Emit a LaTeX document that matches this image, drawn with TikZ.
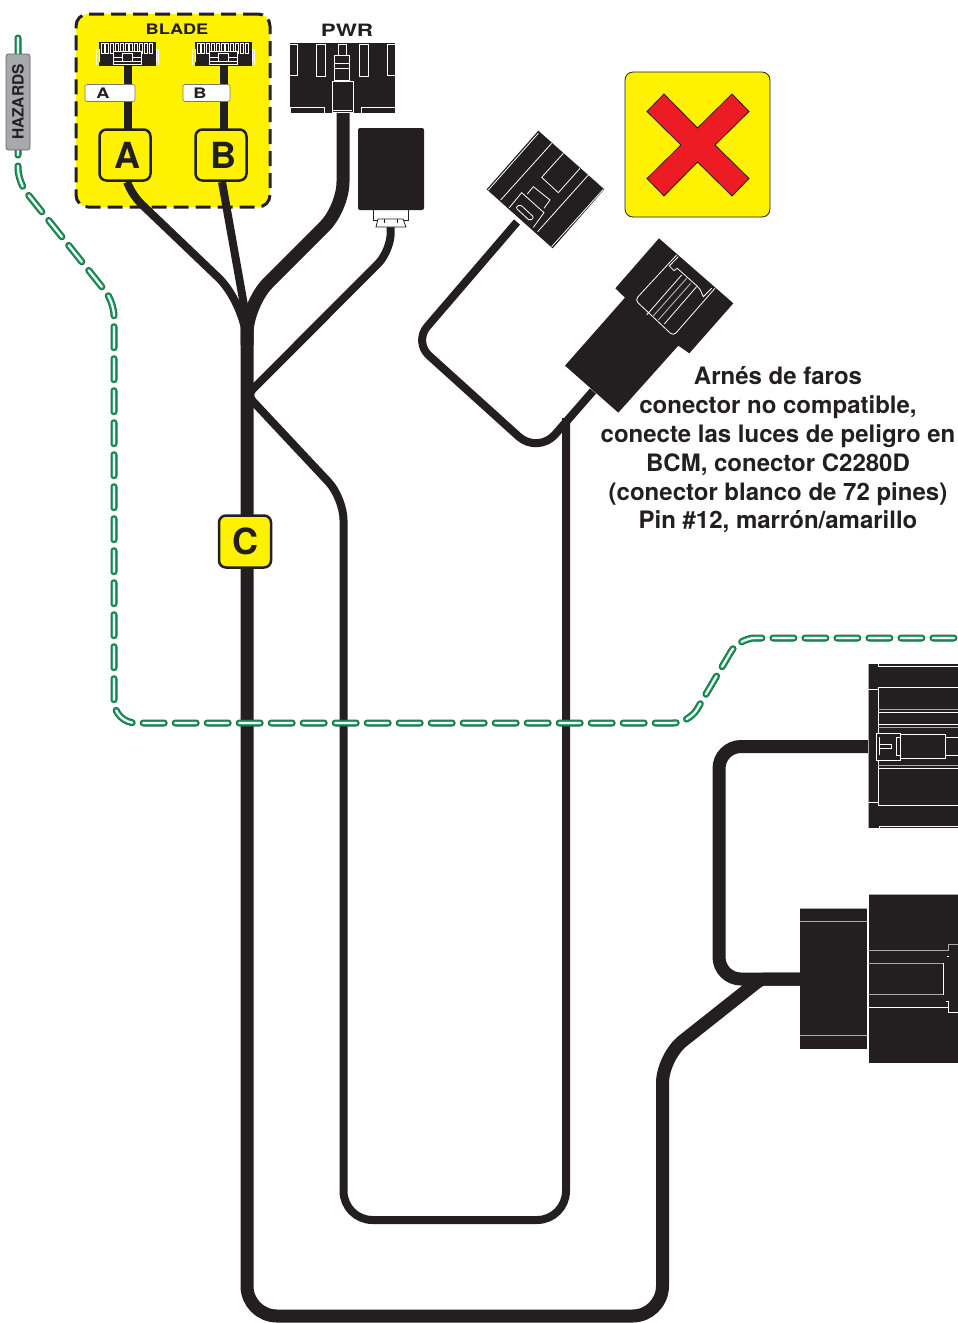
\documentclass[tikz,border=0pt]{standalone}
\usepackage{fontspec}
\setmainfont{TeX Gyre Heros}
\newfontfamily\widefont[FakeStretch=1.25]{TeX Gyre Heros}
\newfontfamily\widerfont[FakeStretch=1.32]{TeX Gyre Heros}
\usetikzlibrary{%
    calc,
    positioning
}
\definecolor{ink}{HTML}{231F20}
\definecolor{signyellow}{HTML}{FFF200}
\definecolor{signred}{HTML}{ED1C24}
\definecolor{hazgreen}{HTML}{0F9D58}
\definecolor{hazedge}{HTML}{2F5A45}
\definecolor{hazgray}{HTML}{A7A9AC}

\begin{document}
\begin{tikzpicture}[x=1pt, y=-1pt,
    tag/.style={draw=ink, line width=2.5pt, fill=signyellow, rounded corners=7pt, minimum size=51pt, inner sep=0pt, text=ink, font=\fontsize{36}{36}\selectfont\bfseries},
    plate/.style={draw=ink!60, line width=.6pt, fill=white, rounded corners=2pt, minimum height=17pt, inner sep=0pt, text=ink, font=\fontsize{14.5}{14.5}\widefont\bfseries},
    head/.style={inner sep=0pt, text=ink, font=\fontsize{14.5}{14.5}\widefont\bfseries},
    body/.style={fill=ink, draw=none, inner sep=0pt},
    thick wire/.style={draw=ink, line width=13pt},
    thin wire/.style={draw=ink, line width=8pt},
    hazard wire/.style={draw=hazedge, line width=7pt, line cap=round, dash pattern=on 21pt off 11pt,
        postaction={draw=hazgreen, line width=5.4pt}, postaction={draw=white, line width=2.2pt}},
    cut/.style={draw=white, line width=.8pt},
    soft/.style={draw=hazgray, line width=1pt},
    bladeplug/.pic={
        \draw[cut] (-26.5,-11) rectangle (-23.5,-1) (-21.7,-11) rectangle (-18.7,-1) (-16.9,-11) rectangle (-13.9,-1)
            (-12.1,-11) rectangle (-9.1,-1) (-7.3,-11) rectangle (-4.3,-3) (-2.5,-11) rectangle (.5,-3)
            (2.3,-11) rectangle (5.3,-3) (7.1,-11) rectangle (10.1,-1) (11.9,-11) rectangle (14.9,-1)
            (16.7,-11) rectangle (19.7,-1) (21.5,-11) rectangle (24.5,-1);
        \draw[cut] (-31,-5) -- (-31,11) (31,-5) -- (31,11) (-28.5,-5) -- (-28.5,8) (28.5,-5) -- (28.5,8);
        \fill[ink] (-14,-3) rectangle (14,10.5);
        \draw[cut] (-14,-3) rectangle (14,10.5) (-14,7.5) -- (14,7.5) (-14,3) -- (-5,3) -- (-5,-1) -- (5,-1) -- (5,3) -- (14,3) (-5,3) -- (-5,7.5) (5,3) -- (5,7.5);
    }
  ]
  \useasboundingbox (0,0) rectangle (958,1323);

  % yellow field behind the blade plugs
  \node[draw=ink, line width=3pt, dash pattern=on 15pt off 7pt, fill=signyellow, rounded corners=12pt, minimum width=194pt, minimum height=193pt, inner sep=0pt] (blade) at (173,110.5) {};
  \node[head] (blade_txt) at (177,29.5) {BLADE};
  \node[head, font=\fontsize{17}{17}\widerfont\bfseries] (pwr_txt) at (347,30.5) {PWR};

  % plugs
  \node[body, minimum width=57pt, minimum height=24pt] (plug_a) at (127.5,54) {};
  \node[body, minimum width=57pt, minimum height=24pt] (plug_b) at (223.5,54) {};
  \node[body, minimum width=105.5pt, minimum height=70pt] (plug_pwr) at (342.3,78) {};
  \node[body, rounded corners=2pt, minimum width=66pt, minimum height=82pt] (lamp) at (391,169) {};
  \coordinate (lamp_end) at (390.7,226);

  % where the branches meet the trunk
  \coordinate (jct) at (247,322);
  \coordinate (side_a) at (127,182);
  \coordinate (side_b) at (222,182);
  \coordinate (mini_end) at (517,222);
  \coordinate (big_end) at (593,391);
  \coordinate (loop_end) at (566,418);
  \coordinate (top_end) at (868,746.5);
  \coordinate (low_end) at (800,979);

  \draw[draw=ink, line width=8pt] (plug_a) -- (plug_a |- side_a);
  \draw[draw=ink, line width=8pt] (plug_b) -- (plug_b |- side_b);
  \node[plate, minimum width=50pt] (lbl_a) at (110,93) {A\hspace*{14pt}\mbox{}};
  \node[plate, minimum width=47pt] (lbl_b) at (206.5,93) {B\hspace*{13pt}\mbox{}};

  \draw[thin wire, rounded corners=10pt] (side_a) -- (134,197) [rounded corners=40pt] -- (247,305) -- (jct);
  \draw[thin wire] (side_b) -- (jct);
  \draw[thick wire, rounded corners=26pt] (plug_pwr.south -| 343,0) -- (343,208) [rounded corners=30pt] -- (247,304) -- (247,345);
  \draw[thick wire, rounded corners=30pt] (jct) -- (247,1316) -- (662.5,1316) [rounded corners=26pt] -- (662.5,1057) [rounded corners=4pt] -- (761,979) -- (low_end);
  \draw[thick wire, rounded corners=22pt] (top_end) -- (719,746.5) -- (719,979) -- (low_end);
  \draw[thin wire, rounded corners=18pt] (lamp_end) -- (390.7,251) [rounded corners=8pt] -- (247,395) [rounded corners=22pt] -- (343.5,498) [rounded corners=29pt] -- (343.5,1220) -- (566,1220) -- (loop_end);
  \draw[thin wire, rounded corners=20pt] (mini_end) -- (414,342) [rounded corners=26pt] -- (538,454) -- (big_end);

  % tags go over the wires
  \node[tag] (tag_a) at (125,155) {\hspace*{4pt}A};
  \node[tag] (tag_b) at (221,155) {\hspace*{5pt}B};
  \node[tag, minimum size=52pt] (tag_c) at (245,541.5) {C};

  % detail of the blade plugs
  \pic at (plug_a) {bladeplug};
  \pic at (plug_b) {bladeplug};

  % detail of the power plug
  \draw[cut] (289.5,44) rectangle (297,75) (316,44) rectangle (325,76) (359,44) rectangle (368,76) (387,44) rectangle (395,75);
  \draw[cut] (338,44) rectangle (346,55) (334,55) rectangle (349,80) (334,63) -- (349,63) (334,68) -- (349,68);
  \draw[cut] (332,81) rectangle (353,112) (333,110) -- (352,110);
  \draw[cut] (290,107) rectangle (324,113) (361,107) rectangle (395,113);

  % lamp clip
  \draw[draw=ink, line width=.6pt] (373,210) -- (373,220) -- (408,220) -- (408,210);
  \draw[draw=ink, line width=.8pt, fill=white] (376,227) -- (378,219) -- (403,219) -- (406,227) -- cycle;
  \draw[draw=ink, line width=1pt] (384,219) -- (384,223) (397,219) -- (397,223);

  % small angled plug
  \begin{scope}[shift={(470,120)}, x=.3333pt, y=-.3333pt]
    \fill[ink] (205,32) -- (403,208) -- (248,385) -- (50,208) -- cycle;
    \draw[cut] (55,210) -- (205,40) (92,240) -- (245,70);
    \draw[cut] (118,263) -- (155,218) -- (222,278) -- (190,322);
    \draw[cut] (172,222) -- (190,200) -- (240,240) -- (222,265);
    \draw[cut, rounded corners=2pt] (137,263) -- (150,253) -- (192,292) -- (180,303) -- cycle;
    \draw[cut] (280,100) -- (215,172) -- (265,218) -- (330,145);
    \draw[cut] (203,335) -- (355,165) (245,380) -- (400,208);
  \end{scope}

  % big angled plug
  \begin{scope}[shift={(470,120)}, x=.3333pt, y=-.3333pt]
    \fill[ink] (567,355) -- (790,550) -- (658,700) -- (625,677) -- (445,878) -- (285,737) -- (465,533) -- (436,505) -- cycle;
    \draw[cut, rounded corners=4pt] (620,405) -- (495,540) -- (610,648) -- (735,505);
    \draw[cut] (625,410) -- (598,438) -- (612,452) -- (622,445) -- (680,497) -- (690,508) -- (700,530) -- (725,505);
    \draw[cut] (530,585) -- (635,465) (583,612) -- (680,500);
    \draw[soft] (548,590) -- (650,475) (565,600) -- (662,490);
  \end{scope}

  % no-go sign
  \node[draw=ink, line width=.8pt, fill=signyellow, rounded corners=8pt, minimum size=145pt, inner sep=0pt] (nogo) at (697.5,144.5) {};
  \draw[draw=ink, line width=.8pt, fill=signred] (697.5,128) -- (732,94) -- (749,111.5) -- (715,145) -- (749,178.5) -- (732,196) -- (697.5,162) -- (664,196) -- (647,178.5) -- (681,145) -- (647,111.5) -- (664,94) -- cycle;

  % note
  \node[inner sep=0pt, text=ink, align=center, font=\fontsize{24}{28.8}\selectfont\bfseries] (note) at (778,450) {Arnés de faros\\conector no compatible,\\conecte las luces de peligro en\\BCM, conector C2280D\\(conector blanco de 72 pines)\\Pin \#12, marrón/amarillo};

  % right hand plugs
  \begin{scope}[shift={(780,650)}, x=.3333pt, y=-.3333pt]
    \fill[ink] (265,43) rectangle (540,535);
    \draw[soft] (265,43) -- (265,535);
    \draw[cut] (295,43) -- (295,48) -- (540,48) (265,118) -- (295,118) (295,113) -- (540,113) (295,113) -- (295,465) -- (540,465) (265,458) -- (295,458);
    \draw[soft] (295,178) -- (540,178) (295,232) -- (540,232) (295,348) -- (540,348);
    \draw[cut] (295,187) -- (540,187) (295,222) -- (540,222) (295,356) -- (540,356);
    \draw[fill=ink, draw=none] (286,248) rectangle (362,332);
    \draw[cut] (288,250) rectangle (360,330) (298,262) -- (298,314) (298,284) -- (335,284) -- (335,294) -- (298,294);
    \draw[cut] (360,262) -- (350,262) -- (350,316) -- (360,316) (360,254) -- (495,254) -- (495,325) -- (360,325) (495,263) -- (540,263) (495,316) -- (540,316);
    \draw[cut] (298,535) -- (298,528) -- (540,528);

    \fill[ink] (60,775) rectangle (262,1197);
    \fill[ink] (265,733) rectangle (540,1238);
    \draw[soft] (60,775) -- (262,775) (60,816) -- (262,816) (60,1157) -- (262,1157) (265,733) -- (540,733);
    \draw[cut] (264,733) -- (264,1238);
    \draw[soft] (265,903) -- (505,903) -- (505,885) -- (540,885) (265,1035) -- (490,1035) (265,940) -- (490,940);
    \draw[cut] (490,940) -- (490,1035) (500,918) -- (507,918) (265,1073) -- (505,1073) -- (505,1088) -- (540,1088) (498,1053) -- (505,1053) -- (505,1073);
  \end{scope}

  % the green hazard lead
  \coordinate (haz_top) at (18,38);
  \coordinate (haz_end) at (962,638);
  \draw[hazard wire, rounded corners=14pt] (haz_top) -- (18,182) -- (114,302) [rounded corners=22pt] -- (114,723) [rounded corners=16pt] -- (689,723) -- (739,638) -- (haz_end);
  \node[draw=ink!70, line width=.8pt, fill=hazgray, rounded corners=2.5pt, minimum width=96pt, minimum height=24pt, inner sep=0pt, rotate=90, text=ink, font=\fontsize{15.5}{15.5}\selectfont\bfseries] (haz_box) at (18,102) {HAZARDS};
\end{tikzpicture}
\end{document}
